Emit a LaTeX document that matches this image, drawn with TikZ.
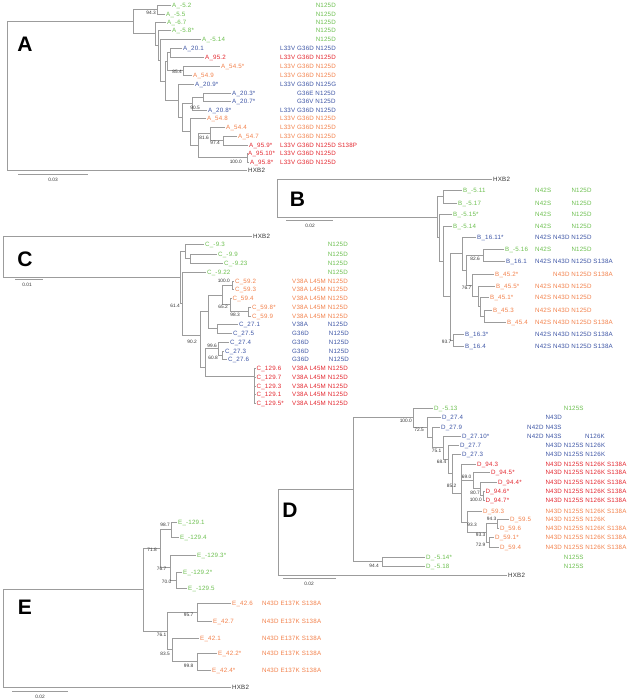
\documentclass[tikz,border=0pt]{standalone}
\usepackage{fontspec}
\setmainfont{Liberation Sans}
\newfontfamily\lblf[LetterSpace=3]{Liberation Sans}
\definecolor{tg}{HTML}{9C9C9C}
\definecolor{cg}{HTML}{6CBF4F}
\definecolor{cb}{HTML}{3D55A5}
\definecolor{cr}{HTML}{E3262E}
\definecolor{co}{HTML}{F2804A}
\definecolor{dk}{HTML}{333333}
\tikzset{
 br/.style={draw=tg,line width=0.6pt},
 lf/.style={font=\lblf\fontsize{6.2}{7}\selectfont,inner sep=0pt,anchor=west,text height=4.4pt,text depth=0pt},
 bs/.style={font=\fontsize{4.8}{5}\selectfont,inner sep=0pt,anchor=east,text height=3.4pt,text depth=0pt,text=dk},
 big/.style={font=\fontsize{21}{21}\selectfont\bfseries,inner sep=0pt,text=black},
 sc/.style={draw=tg,line width=0.6pt},
}
\newcommand\leaf[6]{\node[lf,text=#5] (#1) at (#3,#4) {#6};\draw[br] (#2) |- ([xshift=-0.6pt]#1.west);}
\newcommand\inode[4]{\coordinate (#1) at (#3,#4);\draw[br] (#2) |- (#1);}
\newcommand\mut[5]{\node[lf,text=#4] (#1) at (#2,#3) {#5};}
\newcommand\bsv[4]{\node[bs] (#1) at (#2,#3) {#4};}
\begin{document}
\begin{tikzpicture}[x=1pt,y=-1pt]
\useasboundingbox (0,0) rectangle (628,700);
% ================= Panel A
\node[big] (LA) at (25,44.5) {A};
\coordinate (rA) at (7,96);
\inode{aN1}{rA}{133}{21.5}
\inode{aN2}{aN1}{157}{9.5}
\leaf{a1}{aN2}{172}{5}{cg}{A\_-5.2}
\leaf{a2}{aN2}{166}{14}{cg}{A\_-5.5}
\inode{aP1}{aN1}{155}{33.5}
\leaf{a3}{aP1}{167}{22}{cg}{A\_-6.7}
\inode{aP2}{aP1}{158}{45}
\leaf{a4}{aP2}{172}{30}{cg}{A\_-5.8*}
\inode{aP3}{aP2}{160}{60}
\leaf{a5}{aP3}{202}{39}{cg}{A\_-5.14}
\inode{aP4}{aP3}{165}{81}
\inode{aQ}{aP4}{167}{61.5}
\inode{aN5}{aQ}{170}{52.5}
\leaf{a6}{aN5}{183}{48}{cb}{A\_20.1}
\leaf{a7}{aN5}{205}{57}{cr}{A\_95.2}
\inode{aN6}{aQ}{183}{70.5}
\leaf{a8}{aN6}{221}{66}{co}{A\_54.5*}
\leaf{a9}{aN6}{193}{75}{co}{A\_54.9}
\inode{aR}{aP4}{178}{100.8}
\leaf{a10}{aR}{195}{84}{cb}{A\_20.9*}
\inode{aV}{aR}{182}{117.6}
\inode{aU}{aV}{192}{103.5}
\inode{aT}{aU}{203}{97}
\leaf{a11}{aT}{232}{93}{cb}{A\_20.3*}
\leaf{a12}{aT}{232}{101}{cb}{A\_20.7*}
\leaf{a13}{aU}{208}{110}{cb}{A\_20.8*}
\inode{aW}{aV}{190}{131.8}
\leaf{a14}{aW}{207}{118}{co}{A\_54.8}
\inode{aAB}{aW}{198}{145.6}
\inode{aAA}{aAB}{210}{133.75}
\leaf{a15}{aAA}{226}{127}{co}{A\_54.4}
\inode{aZ}{aAA}{223}{140.5}
\leaf{a16}{aZ}{238}{136}{co}{A\_54.7}
\leaf{a17}{aZ}{249}{145}{cr}{A\_95.9*}
\inode{aY}{aAB}{247}{157.5}
\leaf{a18}{aY}{248}{153}{cr}{A\_95.10*}
\leaf{a19}{aY}{250}{162}{cr}{A\_95.8*}
\leaf{aH}{rA}{248}{170}{dk}{HXB2}
\bsv{ab1}{156}{13}{94.3}
\bsv{ab2}{182}{72}{85.4}
\bsv{ab3}{200}{108}{90.5}
\bsv{ab4}{209}{138}{81.6}
\bsv{ab5}{220}{143}{97.4}
\bsv{ab6}{242}{161.5}{100.0}
\mut{am1}{280}{5}{cg}{\phantom{L33V G36D} N125D}
\mut{am2}{280}{14}{cg}{\phantom{L33V G36D} N125D}
\mut{am3}{280}{22}{cg}{\phantom{L33V G36D} N125D}
\mut{am4}{280}{30}{cg}{\phantom{L33V G36D} N125D}
\mut{am5}{280}{39}{cg}{\phantom{L33V G36D} N125D}
\mut{am6}{280}{48}{cb}{L33V G36D N125D}
\mut{am7}{280}{57}{cr}{L33V G36D N125D}
\mut{am8}{280}{66}{co}{L33V G36D N125D}
\mut{am9}{280}{75}{co}{L33V G36D N125D}
\mut{am10}{280}{84}{cb}{L33V G36D N125G}
\mut{am11}{280}{93}{cb}{\phantom{L33V} G36E N125D}
\mut{am12}{280}{101}{cb}{\phantom{L33V} G36V N125D}
\mut{am13}{280}{110}{cb}{L33V G36D N125D}
\mut{am14}{280}{118}{co}{L33V G36D N125D}
\mut{am15}{280}{127}{co}{L33V G36D N125D}
\mut{am16}{280}{136}{co}{L33V G36D N125D}
\mut{am17}{280}{145}{cr}{L33V G36D N125D S138P}
\mut{am18}{280}{153}{cr}{L33V G36D N125D}
\mut{am19}{280}{162}{cr}{L33V G36D N125D}
\coordinate (sA1) at (18,174); \coordinate (sA2) at (88,174);
\draw[sc] (sA1) -- (sA2);
\node[bs,anchor=center] (sAl) at (53,180) {0.03};
% ================= Panel B
\node[big] (LB) at (297.5,199.5) {B};
\coordinate (rB) at (277,198);
\leaf{bH}{rB}{493}{179}{dk}{HXB2}
\inode{bM}{rB}{437}{217}
\inode{b1}{bM}{443}{196.5}
\leaf{bl1}{b1}{463}{190}{cg}{B\_-5.11}
\leaf{bl2}{b1}{458}{203}{cg}{B\_-5.17}
\inode{bM2}{bM}{439}{237.7}
\leaf{bl3}{bM2}{453}{214}{cg}{B\_-5.15*}
\inode{b2}{bM2}{443}{261.4}
\leaf{bl4}{b2}{453}{226}{cg}{B\_-5.14}
\inode{bL4}{b2}{450}{296.75}
\inode{bL2}{bL4}{462}{253.5}
\leaf{bl5}{bL2}{477}{237}{cb}{B\_16.11*}
\inode{bL3}{bL2}{466}{270}
\inode{bL1}{bL3}{483}{255}
\leaf{bl6}{bL1}{505}{249}{cg}{B\_-5.16}
\leaf{bl7}{bL1}{506}{261}{cb}{B\_16.1}
\inode{b45d}{bL3}{472}{285}
\leaf{bl8}{b45d}{495}{274}{co}{B\_45.2*}
\inode{b45c}{b45d}{478}{296}
\leaf{bl9}{b45c}{496}{286}{co}{B\_45.5*}
\inode{b45b}{b45c}{480}{306.5}
\leaf{bl10}{b45b}{490}{297}{co}{B\_45.1*}
\inode{b45a}{b45b}{484}{316}
\leaf{bl11}{b45a}{493}{310}{co}{B\_45.3}
\leaf{bl12}{b45a}{507}{322}{co}{B\_45.4}
\inode{b16}{bL4}{453}{340}
\leaf{bl13}{b16}{465}{334}{cb}{B\_16.3*}
\leaf{bl14}{b16}{465}{346}{cb}{B\_16.4}
\bsv{bb1}{480}{259}{82.6}
\bsv{bb2}{471.5}{287.5}{76.7}
\bsv{bb3}{451.5}{341.5}{93.7}
\mut{bm1}{535}{190}{cg}{N42S \phantom{N43D} N125D}
\mut{bm2}{535}{203}{cg}{N42S \phantom{N43D} N125D}
\mut{bm3}{535}{214}{cg}{N42S \phantom{N43D} N125D}
\mut{bm4}{535}{226}{cg}{N42S \phantom{N43D} N125D}
\mut{bm5}{535}{237}{cb}{N42S N43D N125D}
\mut{bm6}{535}{249}{cg}{N42S \phantom{N43D} N125D}
\mut{bm7}{535}{261}{cb}{N42S N43D N125D S138A}
\mut{bm8}{535}{274}{co}{\phantom{N42S} N43D N125D S138A}
\mut{bm9}{535}{286}{co}{N42S N43D N125D}
\mut{bm10}{535}{297}{co}{N42S N43D N125D}
\mut{bm11}{535}{310}{co}{N42S N43D N125D}
\mut{bm12}{535}{322}{co}{N42S N43D N125D S138A}
\mut{bm13}{535}{334}{cb}{N42S N43D N125D S138A}
\mut{bm14}{535}{346}{cb}{N42S N43D N125D S138A}
\coordinate (sB1) at (286,220); \coordinate (sB2) at (333,220);
\draw[sc] (sB1) -- (sB2);
\node[bs,anchor=center] (sBl) at (310,225.5) {0.02};
% ================= Panel C
\node[big] (LC) at (25,259.5) {C};
\coordinate (rC) at (3,256);
\leaf{cH}{rC}{253}{236}{dk}{HXB2}
\inode{cc}{rC}{180}{277}
\inode{c2}{cc}{185}{251.25}
\leaf{cl1}{c2}{205}{244}{cg}{C\_-9.3}
\inode{c1}{c2}{190}{258.5}
\leaf{cl2}{c1}{218}{254}{cg}{C\_-9.9}
\leaf{cl3}{c1}{224}{263}{cg}{C\_-9.23}
\inode{cc2}{cc}{182}{303.5}
\leaf{cl4}{cc2}{207}{272}{cg}{C\_-9.22}
\inode{cG3}{cc2}{200}{335}
\inode{cG1}{cG3}{208}{311.7}
\inode{c59d}{cG1}{222}{294.9}
\inode{c59a}{c59d}{232}{285}
\leaf{cl5}{c59a}{235}{281}{co}{C\_59.2}
\leaf{cl6}{c59a}{235}{289}{co}{C\_59.3}
\inode{c59c}{c59d}{230}{304.75}
\leaf{cl7}{c59c}{232.5}{298}{co}{C\_59.4}
\inode{c59b}{c59c}{248}{311.5}
\leaf{cl8}{c59b}{252}{307}{co}{C\_59.8*}
\leaf{cl9}{c59b}{252}{316}{co}{C\_59.9}
\inode{c27a}{cG1}{217}{328.5}
\leaf{cl10}{c27a}{239}{324}{cb}{C\_27.1}
\leaf{cl11}{c27a}{233}{333}{cb}{C\_27.5}
\inode{cG2}{cG3}{205}{367}
\inode{c27c}{cG2}{218}{348.5}
\leaf{cl12}{c27c}{230}{342}{cb}{C\_27.4}
\inode{c27b}{c27c}{222}{355}
\leaf{cl13}{c27b}{225}{351}{cb}{C\_27.3}
\leaf{cl14}{c27b}{228}{359}{cb}{C\_27.6}
\inode{c129}{cG2}{254}{376}
\leaf{cl15}{c129}{256.5}{368}{cr}{C\_129.6}
\leaf{cl16}{c129}{256.5}{377}{cr}{C\_129.7}
\leaf{cl17}{c129}{256.5}{386}{cr}{C\_129.3}
\leaf{cl18}{c129}{256.5}{394}{cr}{C\_129.1}
\leaf{cl19}{c129}{256.5}{403}{cr}{C\_129.5*}
\bsv{cb1}{230}{281}{100.0}
\bsv{cb2}{228}{307}{65.2}
\bsv{cb3}{240}{315}{98.3}
\bsv{cb4}{180}{306}{61.4}
\bsv{cb5}{197}{342}{90.2}
\bsv{cb6}{217}{345.5}{99.6}
\bsv{cb7}{218}{357.5}{60.8}
\mut{cm1}{292}{244}{cg}{\phantom{V38A L45M} N125D}
\mut{cm2}{292}{254}{cg}{\phantom{V38A L45M} N125D}
\mut{cm3}{292}{263}{cg}{\phantom{V38A L45M} N125D}
\mut{cm4}{292}{272}{cg}{\phantom{V38A L45M} N125D}
\mut{cm5}{292}{281}{co}{V38A L45M N125D}
\mut{cm6}{292}{289}{co}{V38A L45M N125D}
\mut{cm7}{292}{298}{co}{V38A L45M N125D}
\mut{cm8}{292}{307}{co}{V38A L45M N125D}
\mut{cm9}{292}{316}{co}{V38A L45M N125D}
\mut{cm10}{292}{324}{cb}{V38A \phantom{L45M} N125D}
\mut{cm11}{292}{333}{cb}{G36D \phantom{L45M} N125D}
\mut{cm12}{292}{342}{cb}{G36D \phantom{L45M} N125D}
\mut{cm13}{292}{351}{cb}{G36D \phantom{L45M} N125D}
\mut{cm14}{292}{359}{cb}{G36D \phantom{L45M} N125D}
\mut{cm15}{292}{368}{cr}{V38A L45M N125D}
\mut{cm16}{292}{377}{cr}{V38A L45M N125D}
\mut{cm17}{292}{386}{cr}{V38A L45M N125D}
\mut{cm18}{292}{394}{cr}{V38A L45M N125D}
\mut{cm19}{292}{403}{cr}{V38A L45M N125D}
\coordinate (sC1) at (15,279); \coordinate (sC2) at (43,279);
\draw[sc] (sC1) -- (sC2);
\node[bs,anchor=center] (sCl) at (27,285) {0.01};
% ================= Panel D
\node[big] (LD) at (290,510.5) {D};
\coordinate (rD) at (278,532);
\leaf{dH}{rD}{508}{575}{dk}{HXB2}
\inode{dN}{rD}{353}{489.5}
\inode{d1}{dN}{413}{417.5}
\leaf{dl1}{d1}{434}{408}{cg}{D\_-5.13}
\inode{dA}{d1}{427}{427}
\leaf{dl2}{dA}{442}{417}{cb}{D\_27.4}
\inode{dB}{dA}{432}{437}
\leaf{dl3}{dB}{441}{427}{cb}{D\_27.9}
\inode{dC}{dB}{443}{447.5}
\leaf{dl4}{dC}{462}{436}{cb}{D\_27.10*}
\inode{dD}{dC}{448}{459}
\leaf{dl5}{dD}{460}{445}{cb}{D\_27.7}
\inode{dE}{dD}{452}{473.5}
\leaf{dl6}{dE}{462}{454}{cb}{D\_27.3}
\inode{dF}{dE}{461}{493}
\leaf{dl7}{dF}{477}{464}{cr}{D\_94.3}
\inode{dG}{dF}{473}{480.4}
\leaf{dl8}{dG}{491}{472}{cr}{D\_94.5*}
\inode{dHh}{dG}{480}{488.75}
\leaf{dl9}{dHh}{498}{482}{cr}{D\_94.4*}
\inode{dI}{dHh}{483}{495.5}
\leaf{dl10}{dI}{485.5}{491}{cr}{D\_94.6*}
\leaf{dl11}{dI}{485.5}{500}{cr}{D\_94.7*}
\inode{dX}{dF}{467}{521.9}
\leaf{dl12}{dX}{483}{511}{co}{D\_59.3}
\inode{d59c}{dX}{486}{532.75}
\inode{d59a}{d59c}{497}{523.5}
\leaf{dl13}{d59a}{510}{519}{co}{D\_59.5}
\leaf{dl14}{d59a}{500}{528}{co}{D\_59.6}
\inode{d59b}{d59c}{489}{542}
\leaf{dl15}{d59b}{495}{537}{co}{D\_59.1*}
\leaf{dl16}{d59b}{500}{547}{co}{D\_59.4}
\inode{dG2}{dN}{382}{561.5}
\leaf{dl17}{dG2}{426}{557}{cg}{D\_-5.14*}
\leaf{dl18}{dG2}{426}{566}{cg}{D\_-5.18}
\bsv{db1}{412}{421}{100.0}
\bsv{db2}{424}{430}{72.5}
\bsv{db3}{441.5}{450.5}{75.1}
\bsv{db4}{446.5}{461.5}{68.4}
\bsv{db5}{471.5}{476.5}{69.0}
\bsv{db6}{456.5}{485.5}{85.2}
\bsv{db7}{480}{492.5}{80.7}
\bsv{db8}{482}{500}{100.0}
\bsv{db9}{496.5}{519}{94.3}
\bsv{db10}{477}{525}{93.3}
\bsv{db11}{485.5}{535}{93.3}
\bsv{db12}{485.5}{545}{72.9}
\bsv{db13}{379}{565.5}{94.4}
\mut{dm1}{527}{408}{cg}{\phantom{N42D N43D} N125S}
\mut{dm2}{527}{417}{cb}{\phantom{N42D} N43D}
\mut{dm3}{527}{427}{cb}{N42D N43S}
\mut{dm4}{527}{436}{cb}{N42D N43S \phantom{N125S} N126K}
\mut{dm5}{527}{445}{cb}{\phantom{N42D} N43D N125S N126K}
\mut{dm6}{527}{454}{cb}{\phantom{N42D} N43D N125S N126K}
\mut{dm7}{527}{464}{cr}{\phantom{N42D} N43D N125S N126K S138A}
\mut{dm8}{527}{472}{cr}{\phantom{N42D} N43D N125S N126K S138A}
\mut{dm9}{527}{482}{cr}{\phantom{N42D} N43D N125S N126K S138A}
\mut{dm10}{527}{491}{cr}{\phantom{N42D} N43D N125S N126K S138A}
\mut{dm11}{527}{500}{cr}{\phantom{N42D} N43D N125S N126K S138A}
\mut{dm12}{527}{511}{co}{\phantom{N42D} N43D N125S N126K S138A}
\mut{dm13}{527}{519}{co}{\phantom{N42D} N43D N125S N126K}
\mut{dm14}{527}{528}{co}{\phantom{N42D} N43D N125S N126K S138A}
\mut{dm15}{527}{537}{co}{\phantom{N42D} N43D N125S N126K S138A}
\mut{dm16}{527}{547}{co}{\phantom{N42D} N43D N125S N126K S138A}
\mut{dm17}{527}{557}{cg}{\phantom{N42D N43D} N125S}
\mut{dm18}{527}{566}{cg}{\phantom{N42D N43D} N125S}
\coordinate (sD1) at (283,578.5); \coordinate (sD2) at (336,578.5);
\draw[sc] (sD1) -- (sD2);
\node[bs,anchor=center] (sDl) at (309,584) {0.02};
% ================= Panel E
\node[big] (LE) at (25,607.5) {E};
\coordinate (rE) at (3,638);
\leaf{eH}{rE}{232}{687}{dk}{HXB2}
\inode{e5}{rE}{143}{589.75}
\inode{e4}{e5}{160}{548.5}
\inode{e1}{e4}{171}{529.5}
\leaf{el1}{e1}{178}{522}{cg}{E\_-129.1}
\leaf{el2}{e1}{180}{537}{cg}{E\_-129.4}
\inode{e3}{e4}{170}{567.5}
\leaf{el3}{e3}{197}{555}{cg}{E\_-129.3*}
\inode{e2}{e3}{176}{580}
\leaf{el4}{e2}{183}{572}{cg}{E\_-129.2*}
\leaf{el5}{e2}{188}{588}{cg}{E\_-129.5}
\inode{e42d}{e5}{167}{631}
\inode{e42a}{e42d}{197}{612}
\leaf{el6}{e42a}{232}{603}{co}{E\_42.6}
\leaf{el7}{e42a}{213}{621}{co}{E\_42.7}
\inode{e42c}{e42d}{172}{649.75}
\leaf{el8}{e42c}{200}{638}{co}{E\_42.1}
\inode{e42b}{e42c}{197}{661.5}
\leaf{el9}{e42b}{218}{653}{co}{E\_42.2*}
\leaf{el10}{e42b}{212}{670}{co}{E\_42.4*}
\bsv{eb1}{170}{524.5}{98.7}
\bsv{eb2}{157}{550}{71.8}
\bsv{eb3}{166.5}{569}{76.7}
\bsv{eb4}{171.5}{581.5}{70.0}
\bsv{eb5}{193.5}{615}{95.7}
\bsv{eb6}{166.5}{634.5}{76.1}
\bsv{eb7}{170}{653.5}{83.5}
\bsv{eb8}{193.5}{665.5}{99.8}
\mut{em1}{262}{603}{co}{N43D E137K S138A}
\mut{em2}{262}{621}{co}{N43D E137K S138A}
\mut{em3}{262}{638}{co}{N43D E137K S138A}
\mut{em4}{262}{653}{co}{N43D E137K S138A}
\mut{em5}{262}{670}{co}{N43D E137K S138A}
\coordinate (sE1) at (12,691); \coordinate (sE2) at (68,691);
\draw[sc] (sE1) -- (sE2);
\node[bs,anchor=center] (sEl) at (40,696.5) {0.02};
\end{tikzpicture}
\end{document}
